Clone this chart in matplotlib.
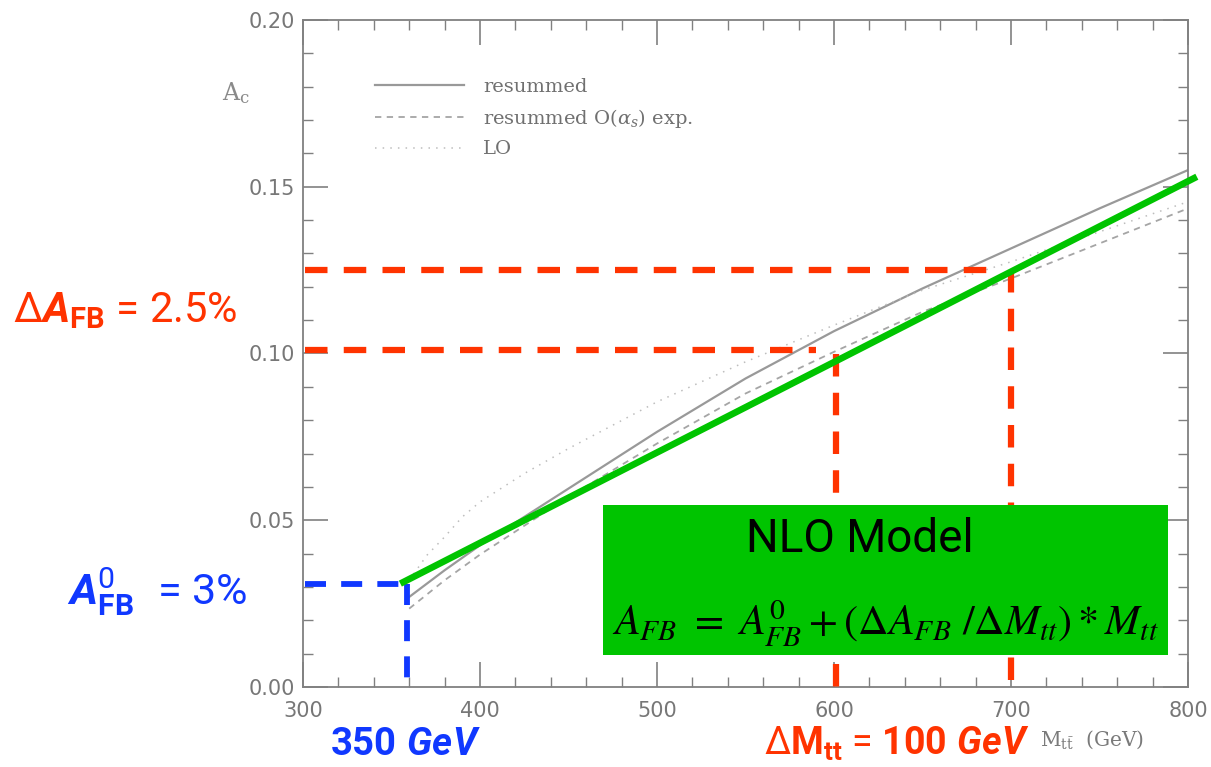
import matplotlib
matplotlib.use("Agg")
import matplotlib.pyplot as plt
from matplotlib.ticker import MultipleLocator, FormatStrFormatter
from matplotlib.patches import Rectangle

# ---------------- data ----------------
m_res = [360, 380, 400, 450, 500, 550, 600, 650, 700, 750, 800]
a_resummed = [0.027, 0.035, 0.0425, 0.0595, 0.0765, 0.0925, 0.1067, 0.1195, 0.1315, 0.1435, 0.155]
a_res_exp = [0.0235, 0.032, 0.0397, 0.057, 0.073, 0.088, 0.1005, 0.1125, 0.1225, 0.133, 0.1435]
m_lo = [360, 370, 380, 390, 400, 425, 450, 500, 550, 600, 650, 700, 750, 800]
a_lo = [0.032, 0.0395, 0.045, 0.051, 0.0555, 0.064, 0.0715, 0.0855, 0.0975, 0.1085, 0.119, 0.1275, 0.1365, 0.1455]

nlo_m = [355, 805]
nlo_a = [0.031, 0.153]

# guide lines
afb_levels = [0.101, 0.125]      # horizontal red levels
afb_h_end = [590, 695]           # where horizontals end (GeV)
mtt_levels = [601, 700]          # vertical red lines (GeV)
mtt_v_top = [0.100, 0.125]
a0_level = 0.031
m0_level = 359
m0_h_end = 357

legend_labels = ["resummed", r"resummed O($\alpha_s$) exp.", "LO"]

# ---------------- style ----------------
W, H = 1211, 767
plt.rcParams['mathtext.fontset'] = 'custom'
plt.rcParams['mathtext.rm'] = 'Roboto'
plt.rcParams['mathtext.it'] = 'Roboto:italic'
plt.rcParams['mathtext.bf'] = 'Roboto:bold'
try:
    plt.rcParams['mathtext.bfit'] = 'Roboto:bold:italic'
except Exception:
    pass

RED = '#FF3300'
BLUE = '#1038FF'
GREEN = '#00C400'
COMIC = ['Roboto', 'DejaVu Sans']

fig = plt.figure(figsize=(W / 100, H / 100), dpi=100)
ax = fig.add_axes([303 / W, 1 - 687 / H, (1188 - 303) / W, (687 - 20) / H])

ax.set_xlim(300, 800)
ax.set_ylim(0, 0.2)
ax.xaxis.set_major_locator(MultipleLocator(100))
ax.xaxis.set_minor_locator(MultipleLocator(20))
ax.yaxis.set_major_locator(MultipleLocator(0.05))
ax.yaxis.set_minor_locator(MultipleLocator(0.01))
ax.yaxis.set_major_formatter(FormatStrFormatter('%.2f'))
ax.tick_params(which='both', direction='in', top=True, right=True, color='#808080')
ax.tick_params(which='major', length=18, width=1.2, labelsize=15, labelcolor='#777777')
ax.tick_params(axis='x', which='major', pad=10)
ax.tick_params(axis='y', which='major', pad=6)
ax.tick_params(which='minor', length=7, width=1.0)
for s in ax.spines.values():
    s.set_color('#808080')
    s.set_linewidth(1.3)

# gray curves
ax.plot(m_res, a_resummed, color='#999999', lw=1.6, ls='-', label=legend_labels[0], zorder=2)
ax.plot(m_res, a_res_exp, color='#a5a5a5', lw=1.3, ls=(0, (3.5, 3)), label=legend_labels[1], zorder=2)
ax.plot(m_lo, a_lo, color='#bdbdbd', lw=1.1, ls=(0, (1, 4)), label=legend_labels[2], zorder=2)

leg = ax.legend(loc='upper left', bbox_to_anchor=(375 / W, 1 - 78 / H),
                bbox_transform=fig.transFigure, frameon=False,
                handlelength=4.6, handletextpad=0.95, labelspacing=0.55,
                borderpad=0, borderaxespad=0,
                prop={'family': 'DejaVu Serif', 'size': 14, 'math_fontfamily': 'dejavuserif'})
for t in leg.get_texts():
    t.set_color('#707070')

# red guides
dash = (0, (3.6, 2.6))
for lvl, xe in zip(afb_levels, afb_h_end):
    ax.plot([301, xe], [lvl, lvl], color=RED, lw=4.5, ls=dash, zorder=3)
for m, top in zip(mtt_levels, mtt_v_top):
    ax.plot([m, m], [top, 0.0], color=RED, lw=4.5, ls=dash, zorder=3)
# blue guides
ax.plot([301, m0_h_end], [a0_level, a0_level], color=BLUE, lw=4.2, ls=dash, zorder=3)
ax.plot([m0_level, m0_level], [a0_level, 0.0], color=BLUE, lw=4.2, ls=dash, zorder=3)

# green NLO line
ax.plot(nlo_m, nlo_a, color=GREEN, lw=4.8, zorder=4, clip_on=False, solid_capstyle='butt')

# green box
box = Rectangle((603 / W, 1 - 655 / H), (1168 - 603) / W, (655 - 505) / H,
                transform=fig.transFigure, facecolor=GREEN, edgecolor='none',
                zorder=5, clip_on=False)
ax.add_patch(box)


def fx(px):
    return px / W


def fy(py):
    return 1 - py / H


fig.text(fx(860), fy(552), "NLO Model", ha='center', va='baseline', fontsize=33,
         family=COMIC, color='black', zorder=6)
fig.text(fx(612), fy(636),
         r"$A_{FB}\ =\ A_{FB}^{0}+(\Delta A_{FB}\ /\Delta M_{tt})*M_{tt}$",
         ha='left', va='baseline', fontsize=30.3, math_fontfamily='stix', color='black', zorder=6)

# annotations
fig.text(fx(13), fy(322), r"$\Delta\mathbfit{A}_{\mathbf{FB}}$ = $\mathit{2.5\%}$",
         ha='left', va='baseline', fontsize=30, color=RED, family=COMIC)
fig.text(fx(67), fy(605), r"$\mathbfit{A}_{\mathbf{FB}}^{\mathrm{0}}\ $ = $\mathit{3\%}$",
         ha='left', va='baseline', fontsize=31, color=BLUE, family=COMIC)
fig.text(fx(330), fy(755), r"$\mathbf{350}\ \mathbfit{GeV}$",
         ha='left', va='baseline', fontsize=27.5, color=BLUE, family=COMIC)
fig.text(fx(764), fy(755), r"$\Delta\mathbf{M}_{\mathbf{tt}}$ = $\mathbf{100}\ \mathbfit{GeV}$",
         ha='left', va='baseline', fontsize=27, color=RED, family=COMIC)

fig.text(fx(1040), fy(746), r"$\mathrm{M}_{\mathrm{t\bar{t}}}$  (GeV)", ha='left', va='baseline',
         fontsize=14.5, color='#7a7a7a', family='DejaVu Serif', math_fontfamily='dejavuserif')
fig.text(fx(222), fy(100), r"$\mathrm{A}_{\mathrm{c}}$", ha='left', va='baseline',
         fontsize=17, color='#8a8a8a', math_fontfamily='dejavuserif')

fig.savefig("out.png", dpi=100)
